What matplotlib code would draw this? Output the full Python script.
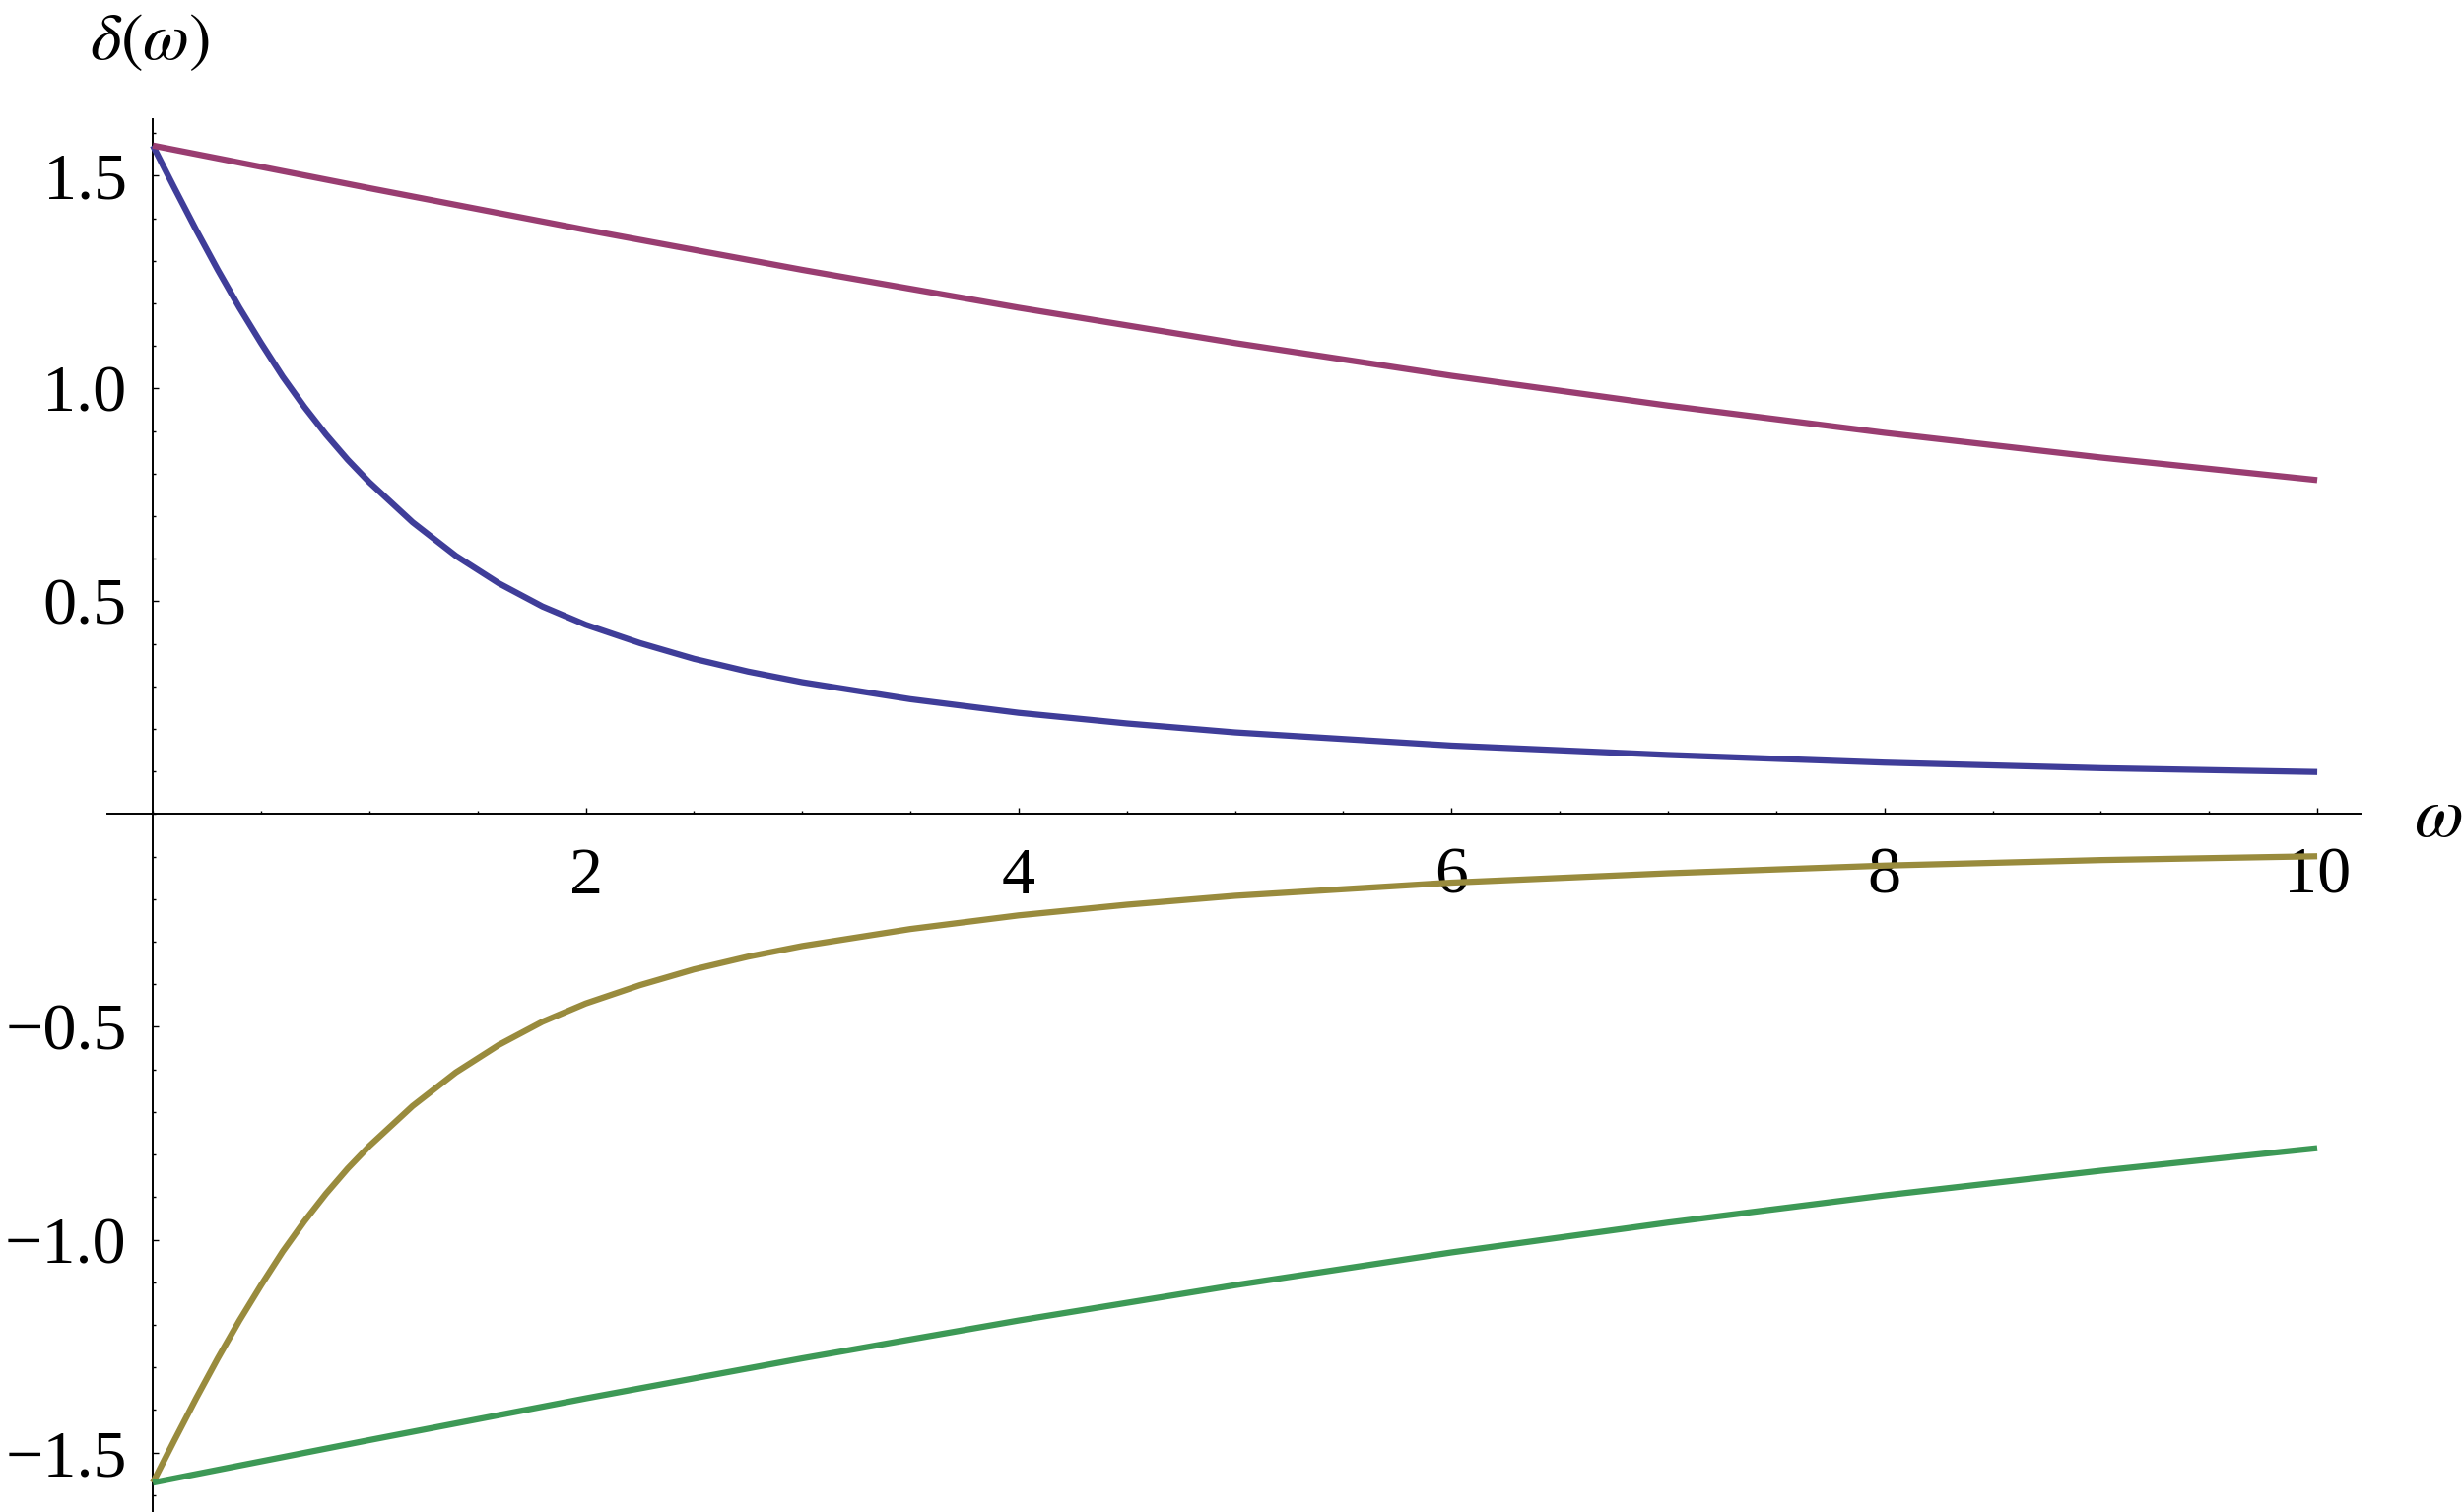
import numpy as np
import matplotlib
matplotlib.use("Agg")
import matplotlib.pyplot as plt
from matplotlib.ticker import MultipleLocator

# values
w_fast = [0, 0.1, 0.2, 0.3, 0.4, 0.5, 0.6, 0.7, 0.8, 0.9, 1.0, 1.2, 1.4, 1.6,
          1.8, 2.0, 2.25, 2.5, 2.75, 3.0, 3.5, 4.0, 4.5, 5.0, 6.0, 7.0, 8.0,
          9.0, 10.0]
blue = [1.571, 1.471, 1.373, 1.279, 1.190, 1.107, 1.028, 0.957, 0.892, 0.833,
        0.780, 0.686, 0.607, 0.542, 0.488, 0.445, 0.402, 0.365, 0.335, 0.310,
        0.270, 0.238, 0.213, 0.192, 0.161, 0.139, 0.121, 0.108, 0.099]
yellow = [-1.571, -1.471, -1.373, -1.279, -1.190, -1.107, -1.028, -0.957, -0.892,
          -0.833, -0.780, -0.686, -0.607, -0.542, -0.488, -0.445, -0.402, -0.365,
          -0.335, -0.310, -0.270, -0.238, -0.213, -0.192, -0.161, -0.139, -0.121,
          -0.108, -0.099]

w_slow = [0, 0.5, 1, 1.5, 2, 3, 4, 5, 6, 7, 8, 9, 10]
purple = [1.571, 1.521, 1.471, 1.422, 1.373, 1.279, 1.190, 1.107, 1.030,
          0.960, 0.896, 0.838, 0.785]
green = [-1.571, -1.521, -1.471, -1.422, -1.373, -1.279, -1.190, -1.107, -1.030,
         -0.960, -0.896, -0.838, -0.785]

yticks = [-1.5, -1.0, -0.5, 0.5, 1.0, 1.5]
ytick_labels = ["\u22121.5", "\u22121.0", "\u22120.5", "0.5", "1.0", "1.5"]
xticks = [2, 4, 6, 8, 10]

plt.rcParams['font.family'] = ['Liberation Serif', 'DejaVu Serif']
plt.rcParams['mathtext.fontset'] = 'stix'

W, H = 2500, 1535
fig = plt.figure(figsize=(W / 100, H / 100), dpi=100)
ax = fig.add_axes([109 / W, 0, 2287 / W, 1414 / H])

lw = 4.5
ax.plot(w_fast, blue, color='#3F3D99', lw=lw, solid_capstyle='butt', clip_on=False)
ax.plot(w_slow, purple, color='#993D71', lw=lw, solid_capstyle='butt', clip_on=False)
ax.plot(w_fast, yellow, color='#998B3D', lw=lw, solid_capstyle='butt', clip_on=False)
ax.plot(w_slow, green, color='#3D9956', lw=lw, solid_capstyle='butt', clip_on=False)

ax.set_xlim(-0.21, 10.2)
ax.set_ylim(-1.64, 1.633)

for s in ['top', 'right']:
    ax.spines[s].set_visible(False)
ax.spines['left'].set_position(('data', 0))
ax.spines['bottom'].set_position(('data', 0))
for s in ['left', 'bottom']:
    ax.spines[s].set_linewidth(1.4)
    ax.spines[s].set_zorder(0.5)

ax.set_xticks(xticks)
ax.set_xticklabels([str(t) for t in xticks])
ax.xaxis.set_minor_locator(MultipleLocator(0.5))
ax.set_yticks(yticks)
ax.set_yticklabels(ytick_labels)
ax.yaxis.set_minor_locator(MultipleLocator(0.1))

ax.tick_params(axis='both', which='both', direction='in', width=1.0, labelsize=49)
ax.tick_params(axis='both', which='major', length=4)
ax.tick_params(axis='both', which='minor', length=2.5)
ax.tick_params(axis='x', which='major', pad=24)
ax.tick_params(axis='y', which='major', pad=19)

fig.text(152 / W, 1 - 43 / H, r'$\delta(\omega)$', fontsize=49, ha='center', va='center')
fig.text(2475 / W, 1 - 832 / H, r'$\omega$', fontsize=52, ha='center', va='center')

fig.savefig('out.png', dpi=100)
